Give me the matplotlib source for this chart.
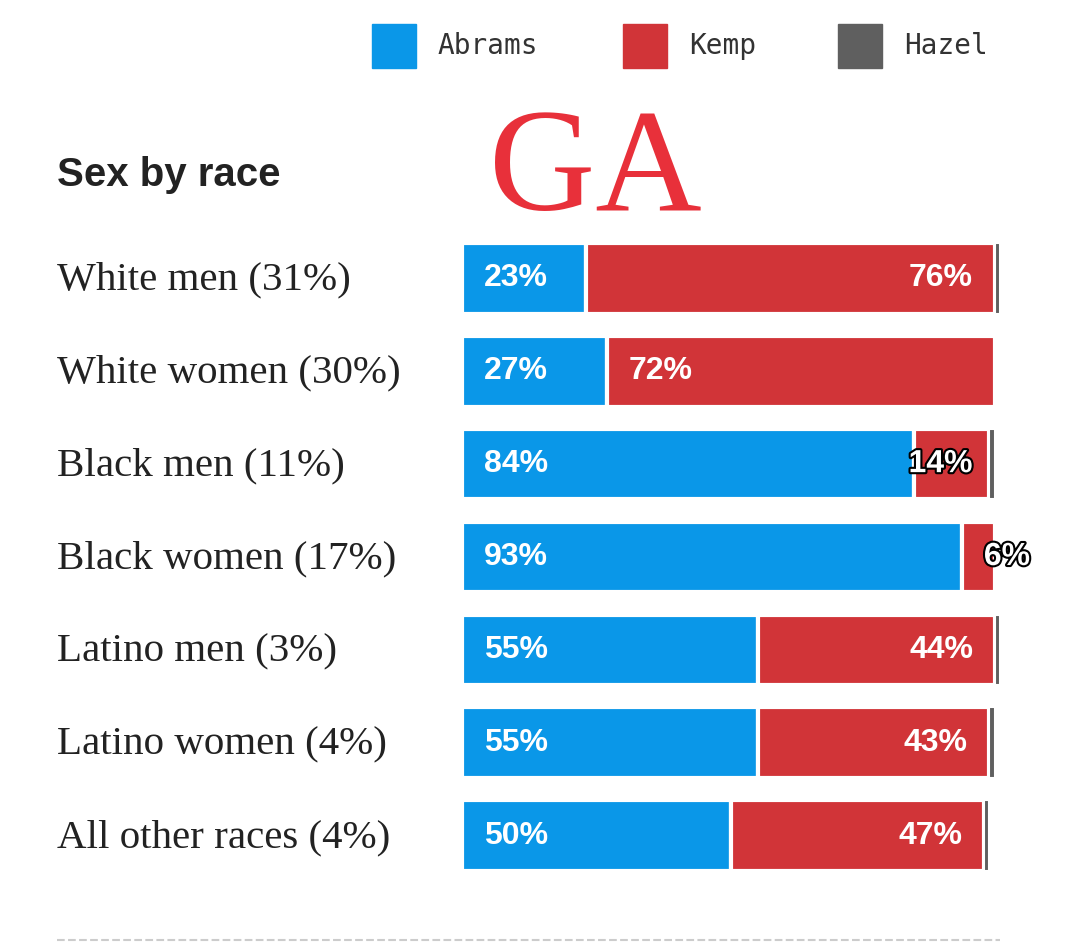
import numpy as np
import matplotlib.pyplot as plt
import matplotlib.patheffects as pe

categories = ["White men (31%)", "White women (30%)", "Black men (11%)", "Black women (17%)",
              "Latino men (3%)", "Latino women (4%)", "All other races (4%)"]
abrams = [23, 27, 84, 93, 55, 55, 50]
kemp = [76, 72, 14, 6, 44, 43, 47]
hazel = [1, 0, 1, 0, 1, 1, 1]

BLUE = "#0a97e8"
RED = "#d13438"
GRAY = "#5f5f5f"

fig = plt.figure(figsize=(10.8, 9.44), dpi=100)
ax = fig.add_axes([462 / 1080, 1 - 882 / 944, 538 / 1080, 650 / 944])

y = np.arange(len(categories))
ab = np.array(abrams, float)
ke = np.array(kemp, float)
ha = np.array(hazel, float)
ax.barh(y, ab, height=0.76, color=BLUE, edgecolor="white", linewidth=3)
ax.barh(y, ke, left=ab, height=0.76, color=RED, edgecolor="white", linewidth=3)
ax.barh(y, ha, left=ab + ke, height=0.76, color=GRAY, edgecolor="white", linewidth=1.5)
ax.set_xlim(0, 100)
ax.set_ylim(len(categories) - 0.5, -0.5)
ax.axis("off")

lab = dict(color="white", fontsize=23, fontweight="bold", va="center", family="Liberation Sans")
outline = [pe.withStroke(linewidth=3, foreground="black")]
for i in y:
    ax.text(4, i, f"{abrams[i]}%", ha="left", **lab)
    if kemp[i] >= 20:
        if abrams[i] > 25 and kemp[i] > 50:
            ax.text(ab[i] + 4, i, f"{kemp[i]}%", ha="left", **lab)
        else:
            ax.text(ab[i] + ke[i] - 4, i, f"{kemp[i]}%", ha="right", **lab)
    elif kemp[i] >= 10:
        ax.text(ab[i] - 1, i, f"{kemp[i]}%", ha="left", path_effects=outline, **lab)
    else:
        ax.text(ab[i] + 4, i, f"{kemp[i]}%", ha="left", path_effects=outline, **lab)
    fig.text(57 / 1080, 1 - (280 + 93 * i) / 944, categories[i], fontsize=29.5,
             family="Liberation Serif", va="center", ha="left", color="#222222")

fig.text(57 / 1080, 1 - 175 / 944, "Sex by race", fontsize=29, fontweight="bold",
         family="Liberation Sans", va="center", ha="left", color="#222222")
fig.text(595 / 1080, 1 - 210 / 944, "GA", fontsize=106, family="Liberation Serif",
         color="#e8303a", va="baseline", ha="center")

# legend
for x0, name, c in [(372, "Abrams", BLUE), (623, "Kemp", RED), (838, "Hazel", GRAY)]:
    fig.patches.append(plt.Rectangle((x0 / 1080, 1 - 68 / 944), 44 / 1080, 44 / 944,
                                     color=c, transform=fig.transFigure))
    fig.text((x0 + 66) / 1080, 1 - 46 / 944, name, fontsize=20, family="DejaVu Sans Mono",
             color="#333333", va="center", ha="left")

fig.add_artist(plt.Line2D([57 / 1080, 1000 / 1080], [1 - 940 / 944] * 2, color="#cccccc",
                          linestyle="--", linewidth=1.5))

fig.savefig("out.png", dpi=100)
